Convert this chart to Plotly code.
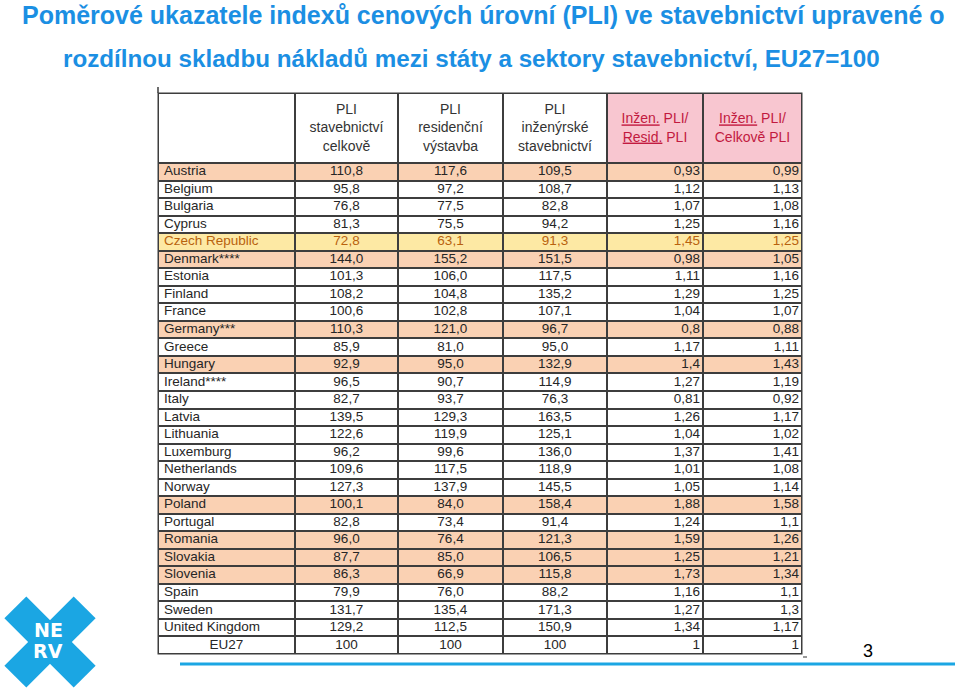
import plotly.graph_objects as go
import math

W, H = 960, 696

# ---------------- data ----------------
countries = ["Austria", "Belgium", "Bulgaria", "Cyprus", "Czech Republic", "Denmark****",
             "Estonia", "Finland", "France", "Germany***", "Greece", "Hungary", "Ireland****",
             "Italy", "Latvia", "Lithuania", "Luxemburg", "Netherlands", "Norway", "Poland",
             "Portugal", "Romania", "Slovakia", "Slovenia", "Spain", "Sweden", "United Kingdom", "EU27"]
pli_total = ["110,8", "95,8", "76,8", "81,3", "72,8", "144,0", "101,3", "108,2", "100,6", "110,3",
             "85,9", "92,9", "96,5", "82,7", "139,5", "122,6", "96,2", "109,6", "127,3", "100,1",
             "82,8", "96,0", "87,7", "86,3", "79,9", "131,7", "129,2", "100"]
pli_resid = ["117,6", "97,2", "77,5", "75,5", "63,1", "155,2", "106,0", "104,8", "102,8", "121,0",
             "81,0", "95,0", "90,7", "93,7", "129,3", "119,9", "99,6", "117,5", "137,9", "84,0",
             "73,4", "76,4", "85,0", "66,9", "76,0", "135,4", "112,5", "100"]
pli_eng = ["109,5", "108,7", "82,8", "94,2", "91,3", "151,5", "117,5", "135,2", "107,1", "96,7",
           "95,0", "132,9", "114,9", "76,3", "163,5", "125,1", "136,0", "118,9", "145,5", "158,4",
           "91,4", "121,3", "106,5", "115,8", "88,2", "171,3", "150,9", "100"]
ratio_eng_resid = ["0,93", "1,12", "1,07", "1,25", "1,45", "0,98", "1,11", "1,29", "1,04", "0,8",
                   "1,17", "1,4", "1,27", "0,81", "1,26", "1,04", "1,37", "1,01", "1,05", "1,88",
                   "1,24", "1,59", "1,25", "1,73", "1,16", "1,27", "1,34", "1"]
ratio_eng_total = ["0,99", "1,13", "1,08", "1,16", "1,25", "1,05", "1,16", "1,25", "1,07", "0,88",
                   "1,11", "1,43", "1,19", "0,92", "1,17", "1,02", "1,41", "1,08", "1,14", "1,58",
                   "1,1", "1,26", "1,21", "1,34", "1,1", "1,3", "1,17", "1"]
header_labels = ["",
                 "PLI<br>stavebnictví<br>celkově",
                 "PLI<br>residenční<br>výstavba",
                 "PLI<br>inženýrské<br>stavebnictví",
                 "<span style='text-decoration:underline'>Inžen.</span> PLI/<br><span style='text-decoration:underline'>Resid.</span> PLI",
                 "<span style='text-decoration:underline'>Inžen.</span> PLI/<br>Celkově PLI"]
highlight_orange = ["Austria", "Denmark****", "Germany***", "Hungary", "Poland", "Romania",
                    "Slovakia", "Slovenia"]
highlight_yellow = ["Czech Republic"]
title_line1 = "Poměrové ukazatele indexů cenových úrovní (PLI) ve stavebnictví upravené o"
title_line2 = "rozdílnou skladbu nákladů mezi státy a sektory stavebnictví, EU27=100"

# ---------------- style / layout ----------------
WHITE, ORANGE, YELLOW, PINK = "white", "#fad1b3", "#fde9a4", "#f8c6d0"
LINE = "#3d3d3d"
TXT = "#262626"
CZ_TXT = "#b8620e"
HDR_RED = "#c21a3f"
FONT = "Liberation Sans, Arial, sans-serif"
FS = 13.5

col_edges = [158, 295, 398, 503, 607, 703, 802]
top, header_bottom, bottom = 93, 163, 654
n = len(countries)
row_h = (bottom - header_bottom) / n
row_edges = [top, header_bottom] + [header_bottom + (k + 1) * row_h for k in range(n)]
row_centers = [(row_edges[k + 1] + row_edges[k + 2]) / 2 for k in range(n)]
col_centers = [(col_edges[i] + col_edges[i + 1]) / 2 for i in range(6)]

# cell fill categories: 0 white, 1 orange, 2 yellow, 3 pink
def row_cat(c):
    if c in highlight_yellow:
        return 2
    if c in highlight_orange:
        return 1
    return 0

z = [[0, 0, 0, 0, 3, 3]] + [[row_cat(c)] * 6 for c in countries]
colorscale = [[0, WHITE], [1 / 6, WHITE], [1 / 6, ORANGE], [0.5, ORANGE],
              [0.5, YELLOW], [5 / 6, YELLOW], [5 / 6, PINK], [1, PINK]]

fig = go.Figure()
fig.add_trace(go.Heatmap(
    x=col_edges, y=row_edges, z=z, zmin=0, zmax=3, colorscale=colorscale,
    showscale=False, xgap=2, ygap=2, hoverinfo="skip",
))

row_colors = [CZ_TXT if c in highlight_yellow else TXT for c in countries]

# first column (left aligned, EU27 centred)
x_first = [col_centers[0] if c == "EU27" else col_edges[0] + 6 for c in countries]
pos_first = ["middle center" if c == "EU27" else "middle right" for c in countries]
fig.add_trace(go.Scatter(x=x_first, y=row_centers, text=countries, mode="text",
                         textposition=pos_first, hoverinfo="skip",
                         textfont=dict(family=FONT, size=FS, color=row_colors)))

value_cols = [pli_total, pli_resid, pli_eng, ratio_eng_resid, ratio_eng_total]
for i, vals in enumerate(value_cols, start=1):
    if i <= 3:
        xs = [col_centers[i]] * n
        pos = "middle center"
    else:
        xs = [col_edges[i + 1] - 3] * n
        pos = "middle left"
    fig.add_trace(go.Scatter(x=xs, y=row_centers, text=vals, mode="text",
                             textposition=pos, hoverinfo="skip",
                             textfont=dict(family=FONT, size=FS, color=row_colors)))

hdr_y = (top + header_bottom) / 2 + 1
fig.add_trace(go.Scatter(x=col_centers[1:], y=[hdr_y] * 5, text=header_labels[1:], mode="text",
                         textposition="middle center", hoverinfo="skip",
                         textfont=dict(family=FONT, size=14,
                                       color=["#333333", "#333333", "#333333", HDR_RED, HDR_RED])))

shapes = []
# table border / grid background
shapes.append(dict(type="rect", xref="x", yref="y", x0=col_edges[0] - 0.5, x1=col_edges[-1] + 0.5,
                   y0=top - 0.5, y1=bottom + 0.5, fillcolor=LINE, line=dict(width=0), layer="below"))
# small corner marks of the pasted table image
shapes.append(dict(type="line", xref="x", yref="y", x0=158, x1=158, y0=87, y1=93,
                   line=dict(color=LINE, width=1.5)))
shapes.append(dict(type="line", xref="x", yref="y", x0=803, x1=807, y0=657, y1=657,
                   line=dict(color="#777", width=1.5)))

# NERV logo X
cx, cy = 50, 642
half_len, half_w = 49, 15.5
for (ux, uy) in [(1, 1), (1, -1)]:
    s = math.sqrt(2)
    u = (ux / s, uy / s)
    v = (uy / s, -ux / s)
    pts = []
    for a, b in [(1, 1), (1, -1), (-1, -1), (-1, 1)]:
        pts.append((cx + a * half_len * u[0] + b * half_w * v[0],
                    cy + a * half_len * u[1] + b * half_w * v[1]))
    path = "M " + " L ".join(f"{p[0]:.2f},{p[1]:.2f}" for p in pts) + " Z"
    shapes.append(dict(type="path", xref="x", yref="y", path=path,
                       fillcolor="#1ba6e3", line=dict(width=0)))
# bottom blue rule
shapes.append(dict(type="line", xref="x", yref="y", x0=180, x1=955, y0=664, y1=664,
                   line=dict(color="#1ba6e3", width=3)))

LOGO_FONT = dict(family="DejaVu Sans, Liberation Sans, sans-serif", size=19, color="white")
annotations = [
    dict(text=f"<b>{title_line1}</b>", x=483, y=0, xref="x", yref="y", showarrow=False,
         xanchor="center", yanchor="top", borderpad=0,
         font=dict(family=FONT, size=25, color="#1b8fe3")),
    dict(text=f"<b>{title_line2}</b>", x=471, y=58, xref="x", yref="y", showarrow=False,
         xanchor="center", yanchor="middle", font=dict(family=FONT, size=24.2, color="#1b8fe3")),
    dict(text="<b>NE</b>", x=48, y=630, xref="x", yref="y", showarrow=False, borderpad=0,
         xanchor="center", yanchor="middle", font=LOGO_FONT),
    dict(text="<b>RV</b>", x=48, y=651, xref="x", yref="y", showarrow=False, borderpad=0,
         xanchor="center", yanchor="middle", font=LOGO_FONT),
    dict(text="3", x=868, y=651, xref="x", yref="y", showarrow=False,
         xanchor="center", yanchor="middle", font=dict(family=FONT, size=18, color="black")),
]

fig.update_layout(
    width=W, height=H, margin=dict(l=0, r=0, t=0, b=0, pad=0),
    paper_bgcolor="white", plot_bgcolor="white", showlegend=False,
    xaxis=dict(range=[0, W], visible=False, fixedrange=True),
    yaxis=dict(range=[H, 0], visible=False, fixedrange=True),
    shapes=shapes, annotations=annotations,
)
fig.write_html("out.html", config={"displayModeBar": False},
               post_script="document.body.style.margin='0';")
